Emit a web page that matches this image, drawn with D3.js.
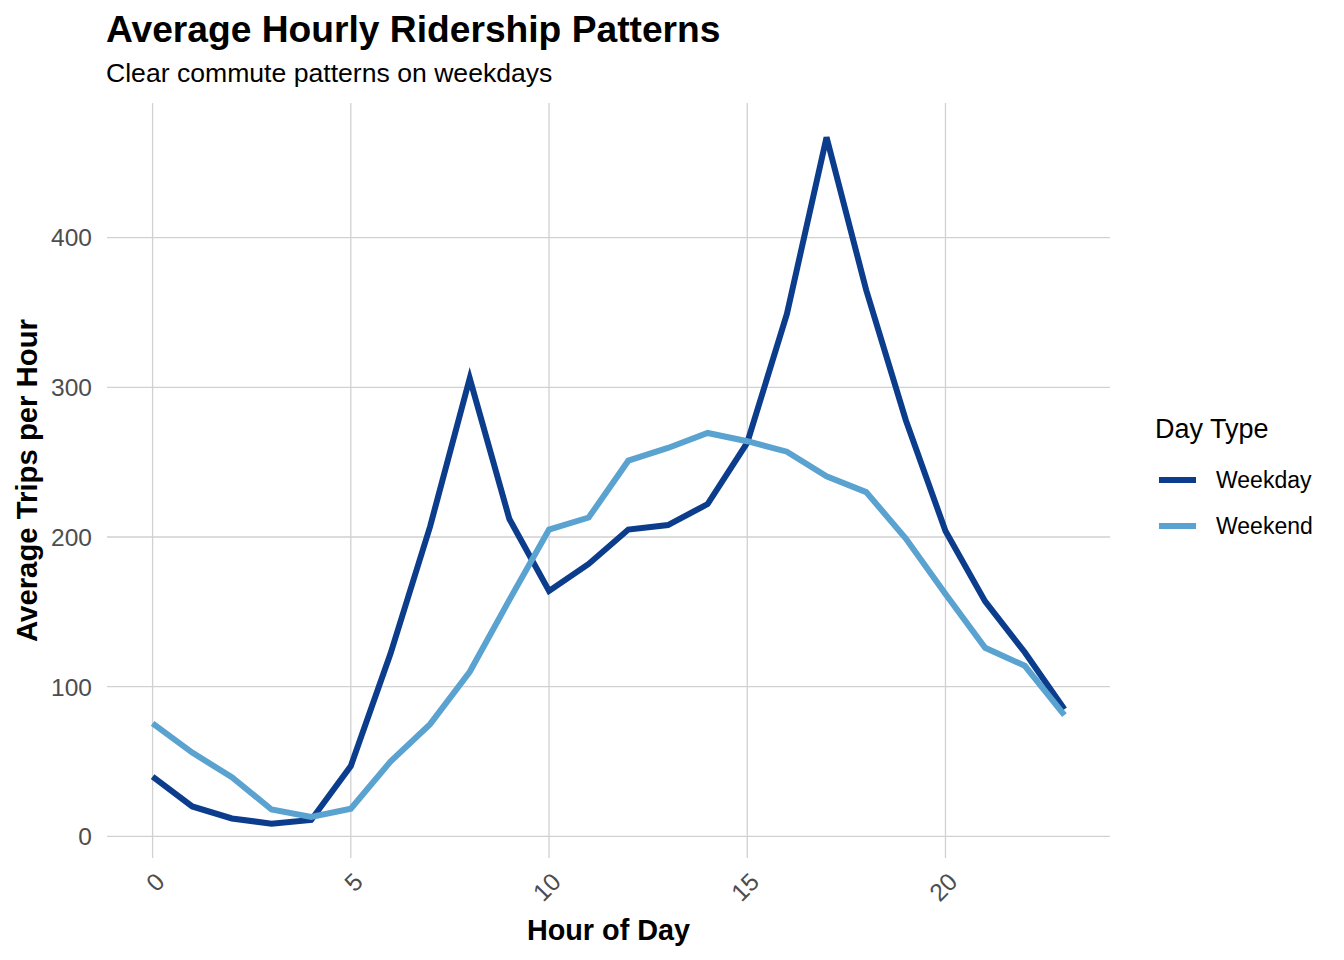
<!DOCTYPE html>
<html>
<head>
<meta charset="utf-8">
<script src="https://cdn.jsdelivr.net/npm/d3@7"></script>
<style>
  html, body { margin: 0; padding: 0; background: #ffffff; }
  svg { display: block; font-family: "Liberation Sans", Arial, Helvetica, sans-serif; }
</style>
</head>
<body>
<svg id="chart" width="1344" height="960"></svg>
<script>
// ---- data ----
const hours = [0,1,2,3,4,5,6,7,8,9,10,11,12,13,14,15,16,17,18,19,20,21,22,23];
const weekdayValues = [40, 20, 12, 8.5, 11, 47, 122, 207, 306, 212, 164, 182, 205, 208, 222, 263, 349, 467, 365, 278, 204, 157, 123, 85];
const weekendValues = [75.5, 56, 39.5, 18, 13, 18.5, 50, 75, 110, 158, 205, 213, 251, 259.5, 269.5, 264, 257, 240.5, 230, 199, 162, 126, 114, 81];
const seriesNames = ["Weekday", "Weekend"];
const xTicks = [0, 5, 10, 15, 20];
const yTicks = [0, 100, 200, 300, 400];
const titleText = "Average Hourly Ridership Patterns";
const subtitleText = "Clear commute patterns on weekdays";
const xLabel = "Hour of Day";
const yLabel = "Average Trips per Hour";
const legendTitle = "Day Type";

// ---- layout ----
const colors = {"Weekday": "#0b3d8c", "Weekend": "#5aa2cf"};
const panel = {left: 107, right: 1110, top: 103, bottom: 858};

const series = seriesNames.map((name, i) => ({
  name,
  values: hours.map((h, j) => ({h, v: (i === 0 ? weekdayValues : weekendValues)[j]}))
}));

const xExt = d3.extent(hours);
const xPad = (xExt[1] - xExt[0]) * 0.05;
const allV = weekdayValues.concat(weekendValues);
const yExt = d3.extent(allV);
const yPad = (yExt[1] - yExt[0]) * 0.05;

const x = d3.scaleLinear().domain([xExt[0] - xPad, xExt[1] + xPad]).range([panel.left, panel.right]);
const y = d3.scaleLinear().domain([yExt[0] - yPad, yExt[1] + yPad]).range([panel.bottom, panel.top]);

const svg = d3.select("#chart");

// grid
const grid = svg.append("g");
grid.selectAll("line.h").data(yTicks).join("line")
  .attr("x1", panel.left).attr("x2", panel.right)
  .attr("y1", d => y(d)).attr("y2", d => y(d))
  .attr("stroke", "#d1d1d1").attr("stroke-width", 1.3);
grid.selectAll("line.v").data(xTicks).join("line")
  .attr("y1", panel.top).attr("y2", panel.bottom)
  .attr("x1", d => x(d)).attr("x2", d => x(d))
  .attr("stroke", "#d1d1d1").attr("stroke-width", 1.3);

// y axis labels
svg.append("g").selectAll("text").data(yTicks).join("text")
  .attr("x", panel.left - 15).attr("y", d => y(d))
  .attr("dy", "0.36em")
  .attr("text-anchor", "end")
  .attr("font-size", 24.5).attr("fill", "#4d4d4d")
  .text(d => d);

// x axis labels (rotated 45)
svg.append("g").selectAll("text").data(xTicks).join("text")
  .attr("transform", d => `translate(${x(d) + 1},${panel.bottom + 13}) rotate(-45)`)
  .attr("dy", "0.72em")
  .attr("text-anchor", "end")
  .attr("font-size", 24.5).attr("fill", "#4d4d4d")
  .text(d => d);

// lines
const line = d3.line().x(d => x(d.h)).y(d => y(d.v));
svg.append("g").selectAll("path").data(series).join("path")
  .attr("d", d => line(d.values))
  .attr("fill", "none")
  .attr("stroke", d => colors[d.name])
  .attr("stroke-width", 6)
  .attr("stroke-linejoin", "miter")
  .attr("stroke-linecap", "butt");

// titles
svg.append("text").attr("x", 106).attr("y", 42)
  .attr("font-size", 37.2).attr("font-weight", "bold").attr("fill", "#000")
  .text(titleText);
svg.append("text").attr("x", 106).attr("y", 82)
  .attr("font-size", 26.6).attr("fill", "#000")
  .text(subtitleText);

// axis titles
svg.append("text").attr("x", (panel.left + panel.right) / 2).attr("y", 940)
  .attr("text-anchor", "middle")
  .attr("font-size", 28.8).attr("font-weight", "bold").attr("fill", "#000")
  .text(xLabel);
svg.append("text")
  .attr("transform", `translate(37,${(panel.top + panel.bottom) / 2}) rotate(-90)`)
  .attr("text-anchor", "middle")
  .attr("font-size", 29.3).attr("font-weight", "bold").attr("fill", "#000")
  .text(yLabel);

// legend
const lg = svg.append("g");
lg.append("text").attr("x", 1155).attr("y", 438)
  .attr("font-size", 27).attr("fill", "#000").text(legendTitle);
const items = lg.selectAll("g.item").data(seriesNames).join("g")
  .attr("transform", (d, i) => `translate(1159,${480 + i * 46})`);
items.append("line").attr("x1", 0).attr("x2", 37).attr("y1", 0).attr("y2", 0)
  .attr("stroke", d => colors[d]).attr("stroke-width", 6);
items.append("text").attr("x", 57).attr("y", 0).attr("dy", "0.36em")
  .attr("font-size", 23).attr("fill", "#000").text(d => d);
</script>
</body>
</html>
